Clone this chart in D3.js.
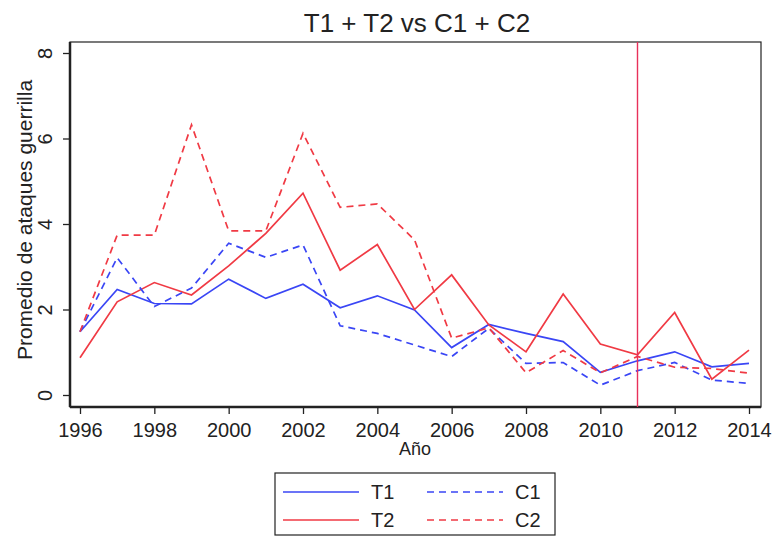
<!DOCTYPE html>
<html>
<head>
<meta charset="utf-8">
<script src="https://cdn.jsdelivr.net/npm/d3@7"></script>
<style>
  body { margin: 0; background: #fff; }
  text { font-family: "Liberation Sans", Arial, sans-serif; fill: #222; }
</style>
</head>
<body>
<div class="chart"></div>
<script>
// === Data ===
const years = d3.range(1996, 2015);
const t1 = [1.48, 2.47, 2.14, 2.13, 2.71, 2.26, 2.59, 2.04, 2.32, 1.99, 1.11, 1.65, 1.44, 1.25, 0.53, 0.80, 1.01, 0.66, 0.74];
const t2 = [0.87, 2.18, 2.63, 2.34, 3.02, 3.78, 4.72, 2.92, 3.52, 2.00, 2.81, 1.64, 1.01, 2.36, 1.19, 0.94, 1.93, 0.37, 1.05];
const c1 = [1.48, 3.21, 2.07, 2.50, 3.55, 3.22, 3.51, 1.62, 1.44, 1.17, 0.90, 1.56, 0.74, 0.76, 0.23, 0.57, 0.76, 0.35, 0.27];
const c2 = [1.48, 3.74, 3.74, 6.32, 3.84, 3.84, 6.12, 4.39, 4.47, 3.63, 1.33, 1.57, 0.52, 1.04, 0.52, 0.90, 0.65, 0.62, 0.51];
const xTicks = [1996, 1998, 2000, 2002, 2004, 2006, 2008, 2010, 2012, 2014];
const yTicks = [0, 2, 4, 6, 8];
const cutYear = 2011;

const blue = "#3a46f5", red = "#f03a44";
const series = [
  {name: "T1", values: t1, color: blue, dash: null},
  {name: "T2", values: t2, color: red, dash: null},
  {name: "C1", values: c1, color: blue, dash: "7,5"},
  {name: "C2", values: c2, color: red, dash: "7,5"}
];

// === Layout ===
const W = 772, H = 537;
const frame = {left: 70, right: 761, top: 42, bottom: 407};

const svg = d3.select(".chart").append("svg")
    .attr("width", W)
    .attr("height", H);

const x = d3.scaleLinear().domain([1996, 2014]).range([80, 749]);
const y = d3.scaleLinear().domain([0, 8]).range([395, 53]);

// frame
svg.append("rect")
    .attr("x", frame.left).attr("y", frame.top)
    .attr("width", frame.right - frame.left)
    .attr("height", frame.bottom - frame.top)
    .attr("fill", "none").attr("stroke", "#222").attr("stroke-width", 1.2);

// axes
const xAxis = svg.append("g")
    .attr("transform", `translate(0,${frame.bottom})`)
    .call(d3.axisBottom(x).tickValues(xTicks).tickFormat(d3.format("d")).tickSize(7).tickSizeOuter(0));
xAxis.select(".domain").attr("stroke", "#222").attr("stroke-width", 2.5)
    .attr("d", `M${frame.left},0H${frame.right}`);
xAxis.selectAll("text").attr("font-size", 20).attr("y", 30).attr("dy", null);

const yAxis = svg.append("g")
    .attr("transform", `translate(${frame.left},0)`)
    .call(d3.axisLeft(y).tickValues(yTicks).tickSize(7).tickSizeOuter(0));
yAxis.select(".domain").attr("stroke", "#222").attr("stroke-width", 2.5)
    .attr("d", `M0,${frame.top}V${frame.bottom}`);
yAxis.selectAll("text")
    .attr("font-size", 20)
    .attr("x", null).attr("dy", null)
    .attr("text-anchor", "middle")
    .attr("transform", "translate(-18,0) rotate(-90)");

svg.selectAll(".tick line").attr("stroke", "#222").attr("stroke-width", 1.3);

// titles
svg.append("text")
    .attr("x", 417).attr("y", 32)
    .attr("text-anchor", "middle")
    .attr("font-size", 26)
    .text("T1 + T2 vs C1 + C2");

svg.append("text")
    .attr("transform", "translate(32,220) rotate(-90)")
    .attr("text-anchor", "middle")
    .attr("font-size", 21)
    .text("Promedio de ataques guerrilla");

svg.append("text")
    .attr("x", 415).attr("y", 455)
    .attr("text-anchor", "middle")
    .attr("font-size", 18)
    .text("Año");

// lines
const line = d3.line()
    .x((d, i) => x(years[i]))
    .y(d => y(d));

svg.selectAll(".series")
    .data(series)
    .enter().append("path")
    .attr("class", "series")
    .attr("d", d => line(d.values))
    .attr("fill", "none")
    .attr("stroke", d => d.color)
    .attr("stroke-width", 1.7)
    .attr("stroke-dasharray", d => d.dash);

// cut line
svg.append("line")
    .attr("x1", x(cutYear)).attr("x2", x(cutYear))
    .attr("y1", frame.top).attr("y2", frame.bottom)
    .attr("stroke", "#e8305a").attr("stroke-width", 1.4);

// legend
const legend = svg.append("g");
legend.append("rect")
    .attr("x", 275).attr("y", 473)
    .attr("width", 280).attr("height", 62)
    .attr("fill", "#fff").attr("stroke", "#222").attr("stroke-width", 1.2);

const legendPos = [
  {lx: 283, ty: 492}, {lx: 283, ty: 520},
  {lx: 427, ty: 492}, {lx: 427, ty: 520}
];
series.forEach((s, i) => {
  const p = legendPos[i];
  legend.append("line")
      .attr("x1", p.lx).attr("x2", p.lx + 76)
      .attr("y1", p.ty).attr("y2", p.ty)
      .attr("stroke", s.color).attr("stroke-width", 1.7)
      .attr("stroke-dasharray", s.dash);
  legend.append("text")
      .attr("x", p.lx + 88).attr("y", p.ty + 7)
      .attr("font-size", 20)
      .text(s.name);
});
</script>
</body>
</html>
